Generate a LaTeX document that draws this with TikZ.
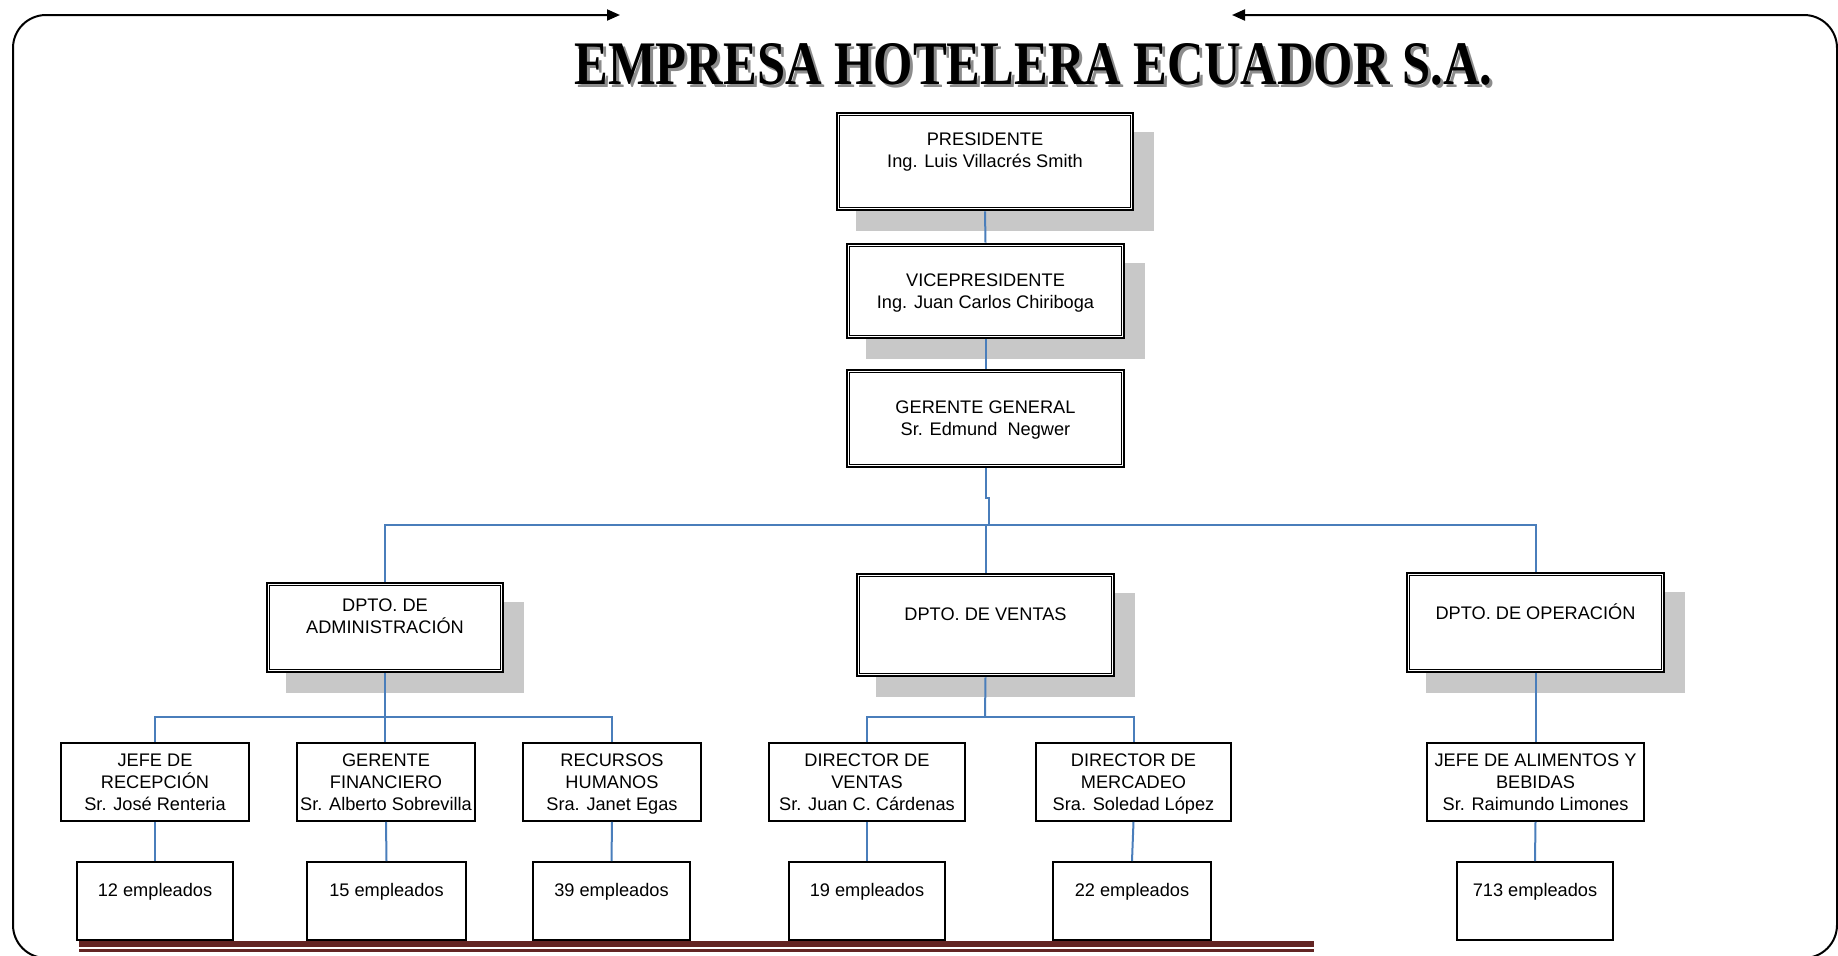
\documentclass[tikz,border=0pt]{standalone}
\usepackage{graphicx}
\usepackage{fontspec}
\setmainfont{Liberation Sans}
\newfontfamily\titlefont{Liberation Serif}
\usetikzlibrary{arrows.meta,backgrounds}
\definecolor{connblue}{HTML}{4A7EBB}
\definecolor{shadowgray}{HTML}{C8C8C8}
\definecolor{footred}{HTML}{632523}
\tikzset{
  boxat/.style n args={4}{at={({(#1+#3)/2},{(#2+#4)/2})},
     minimum width={(#3-#1)*0.5pt}, minimum height={(#4-#2)*0.5pt}},
  basebox/.style={inner sep=0pt, align=center, fill=white, text depth=0pt,
     font=\fontsize{9.1}{11}\selectfont},
  topbox/.style={basebox, draw, line width=1.3pt},
  subbox/.style={basebox, draw, line width=0.8pt},
  empbox/.style={basebox, draw, line width=1pt},
  conn/.style={draw=connblue, line width=1pt},
  frameline/.style={draw=black, line width=1pt, rounded corners=16.5pt,
     -{Triangle[length=6.5pt,width=5.5pt]}},
  titletext/.style={inner sep=0pt, anchor=base west},
}
\begin{document}
\begin{tikzpicture}[x=0.5pt,y=-0.5pt]
\useasboundingbox (0,0) rectangle (1838,955);

% frame
\draw[frameline] (400,958) -- (13,958) -- (13,15) -- (620,15);
\draw[frameline] (1450,958) -- (1837,958) -- (1837,15) -- (1232,15);

% title
\node[titletext, text=black!45] (titleshadow) at (577,87)
  {\titlefont\bfseries\resizebox{459pt}{20.5pt}{EMPRESA HOTELERA ECUADOR S.A.}};
\node[titletext] (title) at (574,84)
  {\titlefont\bfseries\resizebox{459pt}{20.5pt}{EMPRESA HOTELERA ECUADOR S.A.}};

% footer line
\fill[footred] (79,941) rectangle (1314,947);
\fill[footred] (79,949) rectangle (1314,951.5);

% top level boxes
\node[topbox, boxat={837}{113}{1133}{210}] (pres) {PRESIDENTE\\Ing. Luis Villacrés Smith\\~};
\node[topbox, boxat={847}{244}{1124}{338}] (vice) {VICEPRESIDENTE\\Ing. Juan Carlos Chiriboga};
\node[topbox, boxat={847}{370}{1124}{467}] (gg) {GERENTE GENERAL\\Sr. Edmund\ \ Negwer};
\node[topbox, boxat={267}{583}{503}{672}] (admin) {DPTO. DE\\ADMINISTRACIÓN\\~};
\node[topbox, boxat={857}{574}{1114}{676}] (ventas) {DPTO. DE VENTAS\\~};
\node[topbox, boxat={1407}{573}{1664}{672}] (ops) {DPTO. DE OPERACIÓN\\~};

\foreach \n in {pres,vice,gg,admin,ventas,ops}
  \draw[line width=0.65pt] ([shift={(4,4)}]\n.north west) rectangle ([shift={(-4,-4)}]\n.south east);

\begin{scope}[on background layer]
  \foreach \n in {pres,vice,admin,ventas,ops}
    \fill[shadowgray] ([shift={(20,20)}]\n.north west) rectangle ([shift={(20,20)}]\n.south east);
\end{scope}

% second level
\node[subbox, boxat={61}{743}{249}{821}] (recep) {JEFE DE\\RECEPCIÓN\\Sr. José Renteria};
\node[subbox, boxat={297}{743}{475}{821}] (fin) {GERENTE\\FINANCIERO\\Sr. Alberto Sobrevilla};
\node[subbox, boxat={523}{743}{701}{821}] (rrhh) {RECURSOS\\HUMANOS\\Sra. Janet Egas};
\node[subbox, boxat={769}{743}{965}{821}] (dirven) {DIRECTOR DE\\VENTAS\\Sr. Juan C. Cárdenas};
\node[subbox, boxat={1036}{743}{1231}{821}] (dirmer) {DIRECTOR DE\\MERCADEO\\Sra. Soledad López};
\node[subbox, boxat={1427}{743}{1644}{821}] (alim) {JEFE DE ALIMENTOS Y\\BEBIDAS\\Sr. Raimundo Limones};

% employees
\node[empbox, boxat={77}{862}{233}{940}] (e12) {12 empleados\\~};
\node[empbox, boxat={307}{862}{466}{940}] (e15) {15 empleados\\~};
\node[empbox, boxat={533}{862}{690}{940}] (e39) {39 empleados\\~};
\node[empbox, boxat={789}{862}{945}{940}] (e19) {19 empleados\\~};
\node[empbox, boxat={1053}{862}{1211}{940}] (e22) {22 empleados\\~};
\node[empbox, boxat={1457}{862}{1613}{940}] (e713) {713 empleados\\~};

% connectors
\coordinate (bus) at (985,525);
\coordinate (jog) at (989,525);
\coordinate (abus) at (385,717);
\coordinate (vbus) at (985,717);
\draw[conn] (pres.south) -- (vice.north);
\draw[conn] (vice.south) -- (gg.south |- vice.south) -- (gg.north);
\draw[conn] (gg.south) -- ++(0,30) -| (jog);
\draw[conn] (admin.north) |- (bus) -| (ops.north);
\draw[conn] (ventas.north) -- (ventas.north |- bus);
\draw[conn] (recep.north) |- (abus) -| (rrhh.north);
\draw[conn] (admin.south) -- (admin.south |- fin.north);
\draw[conn] (dirven.north) |- (vbus) -| (dirmer.north);
\draw[conn] (ventas.south) -- (vbus);
\draw[conn] (ops.south) -- (ops.south |- alim.north);
\draw[conn] (recep.south) -- (e12.north);
\draw[conn] (fin.south) -- (e15.north);
\draw[conn] (rrhh.south) -- (e39.north);
\draw[conn] (dirven.south) -- (e19.north);
\draw[conn] (dirmer.south) -- (e22.north);
\draw[conn] (alim.south) -- (e713.north);
\end{tikzpicture}
\end{document}
